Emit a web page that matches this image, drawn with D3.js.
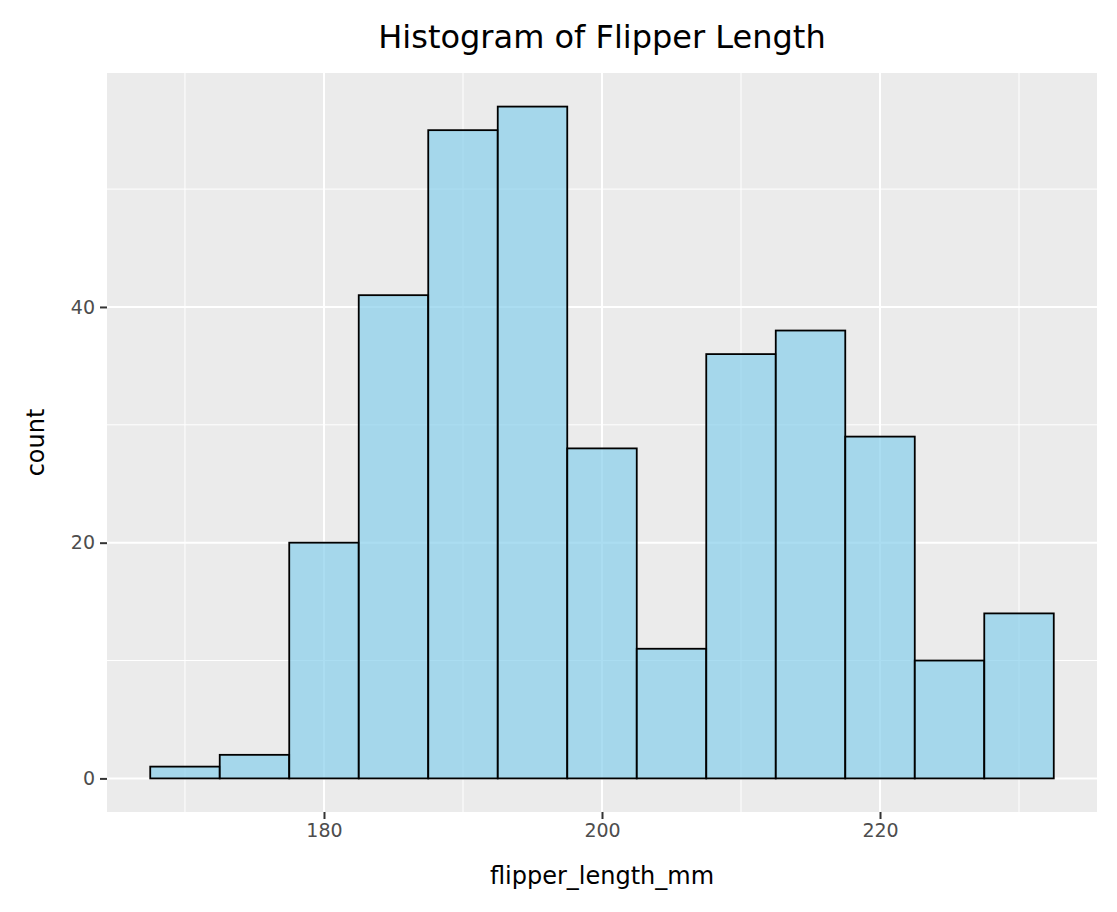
<!DOCTYPE html>
<html><head><meta charset="utf-8">
<script src="https://cdn.jsdelivr.net/npm/d3@7"></script>
<style>body{margin:0;background:#fff}text{font-family:"DejaVu Sans",sans-serif}</style>
</head><body><svg id="c" width="1117" height="912"></svg>
<script>
const binStarts = [167.5,172.5,177.5,182.5,187.5,192.5,197.5,202.5,207.5,212.5,217.5,222.5,227.5];
const binWidth = 5;
const counts = [1,2,20,41,55,57,28,11,36,38,29,10,14];
const xTicks = [180,200,220];
const xMinor = [170,190,210,230];
const yTicks = [0,20,40];
const yMinor = [10,30,50];

const svg = d3.select("#c");
const L=107,R=1097,T=73,B=812;
const x = d3.scaleLinear().domain([164.39,235.61]).range([L,R]);
const y = d3.scaleLinear().domain([-2.85,59.85]).range([B,T]);

svg.append("rect").attr("x",L).attr("y",T).attr("width",R-L).attr("height",B-T).attr("fill","#ebebeb");
const g = svg.append("g");
g.selectAll(".xm").data(xMinor).join("line").attr("x1",d=>x(d)).attr("x2",d=>x(d)).attr("y1",T).attr("y2",B).attr("stroke","#fff").attr("stroke-width",1);
g.selectAll(".ym").data(yMinor).join("line").attr("y1",d=>y(d)).attr("y2",d=>y(d)).attr("x1",L).attr("x2",R).attr("stroke","#fff").attr("stroke-width",1);
g.selectAll(".xM").data(xTicks).join("line").attr("x1",d=>x(d)).attr("x2",d=>x(d)).attr("y1",T).attr("y2",B).attr("stroke","#fff").attr("stroke-width",2);
g.selectAll(".yM").data(yTicks).join("line").attr("y1",d=>y(d)).attr("y2",d=>y(d)).attr("x1",L).attr("x2",R).attr("stroke","#fff").attr("stroke-width",2);

svg.selectAll(".bar").data(counts).join("rect")
 .attr("x",(d,i)=>x(binStarts[i])).attr("width",(d,i)=>x(binStarts[i]+binWidth)-x(binStarts[i]))
 .attr("y",d=>y(d)).attr("height",d=>y(0)-y(d))
 .attr("fill","#87ceeb").attr("fill-opacity",0.7).attr("stroke","#000").attr("stroke-width",1.8);

const xa = svg.append("g").attr("transform",`translate(0,${B})`).call(d3.axisBottom(x).tickValues(xTicks).tickSize(7).tickPadding(5));
const ya = svg.append("g").attr("transform",`translate(${L},0)`).call(d3.axisLeft(y).tickValues(yTicks).tickSize(7).tickPadding(5));
[xa,ya].forEach(a=>{a.select(".domain").remove();a.selectAll("line").attr("stroke","#333").attr("stroke-width",2);
 a.selectAll("text").attr("fill","#4d4d4d").style("font-size","19px").style("font-family","DejaVu Sans");});

svg.append("text").attr("x",(L+R)/2).attr("y",48).attr("text-anchor","middle").style("font-size","32px").text("Histogram of Flipper Length");
svg.append("text").attr("x",(L+R)/2).attr("y",884).attr("text-anchor","middle").style("font-size","24px").text("flipper_length_mm");
svg.append("text").attr("transform",`translate(44,${(T+B)/2}) rotate(-90)`).attr("text-anchor","middle").style("font-size","24px").text("count");
</script></body></html>
